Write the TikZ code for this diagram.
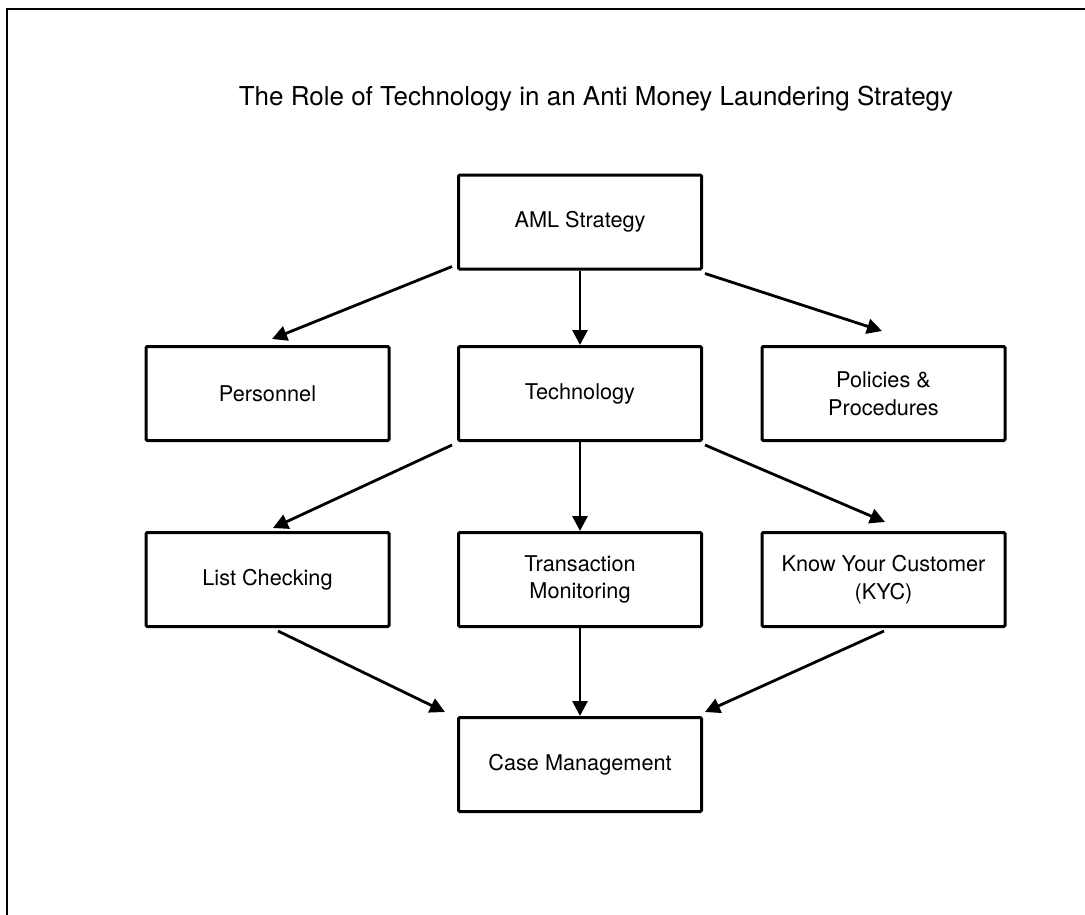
\documentclass[tikz,border=0pt]{standalone}
\usepackage{fontspec}
\setmainfont{TeX Gyre Heros}
\usetikzlibrary{arrows.meta}
\begin{document}
\begin{tikzpicture}[x=1pt,y=-1pt,
  box/.style={draw, line width=3pt, rounded corners=1.2pt, minimum width=243pt, minimum height=94pt, align=center, inner sep=0pt,
    font=\fontsize{21.7}{27.5}\selectfont},
  arr/.style={line width=2.8pt, -{Triangle[length=15pt,width=15pt]}},
  frame/.style={line width=2.8pt}]
\useasboundingbox (0,0) rectangle (1085,914);
\begin{scope}
\clip (0,0) rectangle (1085,914);
\coordinate (fbl) at (7,930);
\coordinate (ftl) at (7,9);
\coordinate (ftr) at (1100,9);
\draw[frame] (fbl) -- (ftl) -- (ftr);
\end{scope}
\node[anchor=base, font=\fontsize{26}{30}\selectfont] (title) at (596,105) {The Role of Technology in an Anti Money Laundering Strategy};
\node[box] (aml) at (580,222) {AML Strategy};
\node[box] (pers) at (267.5,393.5) {Personnel};
\node[box] (tech) at (580,393.5) {Technology};
\node[box] (pol) at (883.5,393.5) {Policies \&\\Procedures};
\node[box] (list) at (267.5,579.5) {List Checking};
\node[box] (tm) at (580,579.5) {Transaction\\Monitoring};
\node[box] (kyc) at (883.5,579.5) {Know Your Customer\\(KYC)};
\node[box] (case) at (580,764.5) {Case Management};
\draw[arr] ([shift={(-5,-4)}]aml.south west) -- ([shift={(4.5,-6)}]pers.north);
\draw[arr] (aml.south) -- (tech.north);
\draw[arr] ([shift={(2,3)}]aml.south east) -- ([shift={(-1.5,-14)}]pol.north);
\draw[arr] ([shift={(-5,3)}]tech.south west) -- ([shift={(5.5,-3)}]list.north);
\draw[arr] (tech.south) -- (tm.north);
\draw[arr] ([shift={(2,3)}]tech.south east) -- ([shift={(1.5,-9)}]kyc.north);
\draw[arr] ([shift={(10.5,3)}]list.south) -- ([shift={(-12,-4)}]case.north west);
\draw[arr] (tm.south) -- (case.north);
\draw[arr] ([shift={(0.5,3)}]kyc.south) -- ([shift={(2,-4)}]case.north east);
\end{tikzpicture}
\end{document}
